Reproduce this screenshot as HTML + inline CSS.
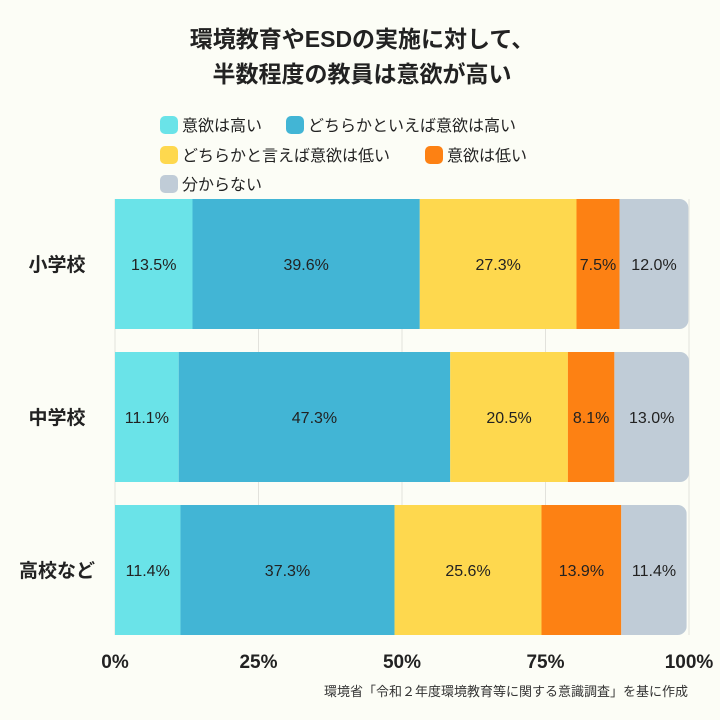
<!DOCTYPE html>
<html><head><meta charset="utf-8">
<style>
body{margin:0;background:#fcfdf6;}
svg{display:block;font-family:"Liberation Sans","Noto Sans CJK JP",sans-serif;}
</style></head>
<body>
<svg id="chart" width="720" height="720" viewBox="0 0 720 720">
<rect width="720" height="720" fill="#fcfdf6"/>
<text x="362" y="47" text-anchor="middle" font-size="23" font-weight="bold" fill="#222">環境教育やESDの実施に対して、</text>
<text x="362" y="82" text-anchor="middle" font-size="23" font-weight="bold" fill="#222">半数程度の教員は意欲が高い</text>
<g id="legend"></g>
<g id="grid"></g>
<g id="bars"></g>
<g id="xaxis"></g>
<text x="688" y="696" text-anchor="end" font-size="13" fill="#333">環境省「令和２年度環境教育等に関する意識調査」を基に作成</text>
</svg>
<script>
const categories = ["小学校","中学校","高校など"];
const seriesNames = ["意欲は高い","どちらかといえば意欲は高い","どちらかと言えば意欲は低い","意欲は低い","分からない"];
const s1 = [13.5, 11.1, 11.4];
const s2 = [39.6, 47.3, 37.3];
const s3 = [27.3, 20.5, 25.6];
const s4 = [7.5, 8.1, 13.9];
const s5 = [12.0, 13.0, 11.4];
const tickValues = [0,25,50,75,100];
const tickLabels = ["0%","25%","50%","75%","100%"];

const colors = ["#6ae3e8","#42b5d5","#fed84e","#fd8113","#c0ccd7"];
const NS="http://www.w3.org/2000/svg";
const X0=115, W=574;
const x = v => X0 + v/100*W;
const rowTop = [199,352,505], rowH=130;
const y = i => rowTop[0] + i*(rowTop[1]-rowTop[0]);
function mk(tag, attrs, parent){const e=document.createElementNS(NS,tag);for(const k in attrs)e.setAttribute(k,attrs[k]);parent.appendChild(e);return e;}

// grid
const grid=document.getElementById('grid');
tickValues.forEach((t,i)=>{
  const l=mk('line',{x1:x(t),x2:x(t),y1:199,y2:635,stroke:'#e2e2dc','stroke-width':1},grid);
  
  
});
// x axis labels
const xa=document.getElementById('xaxis');
tickValues.forEach((t,i)=>{
  const tx=mk('text',{x:x(t),y:668,'text-anchor':'middle','font-size':19,'font-weight':'bold',fill:'#222'},xa);
  tx.textContent=tickLabels[i];
  
  
});
// bars
const series=[s1,s2,s3,s4,s5];
const bars=document.getElementById('bars');
categories.forEach((c,i)=>{
  const top=y(i);
  const lab=mk('text',{x:57,y:top+rowH/2+7,'text-anchor':'middle','font-size':19,'font-weight':'bold',fill:'#222'},bars);
  lab.textContent=c;
  
  
  const total=series.reduce((a,s)=>a+s[i],0);
  const clip=mk('clipPath',{id:'clip'+i},bars);
  mk('rect',{x:x(0)-10,y:top,width:x(total)-x(0)+10,height:rowH,rx:9},clip);
  let acc=0;
  series.forEach((s,j)=>{
    const v=s[i];
    const r=mk('rect',{x:x(acc),y:top,width:x(acc+v)-x(acc),height:rowH,fill:colors[j],'clip-path':'url(#clip'+i+')'},bars);
    
    
    const t=mk('text',{x:(x(acc)+x(acc+v))/2,y:top+rowH/2+6,'text-anchor':'middle','font-size':16,fill:'#222'},bars);
    t.textContent=v.toFixed(1)+'%';
    
    
    acc+=v;
  });
});
// legend
const lg=document.getElementById('legend');
const legPos=[[160,125],[286,125],[160,155],[425,155],[160,184]];
seriesNames.forEach((n,j)=>{
  const [lx,ly]=legPos[j];
  const sq=mk('rect',{x:lx,y:ly-9,width:18,height:18,rx:5,fill:colors[j]},lg);
  
  
  const t=mk('text',{x:lx+22,y:ly+6,'font-size':16,fill:'#222'},lg);
  t.textContent=n;
  
  
});
</script>
</body></html>
